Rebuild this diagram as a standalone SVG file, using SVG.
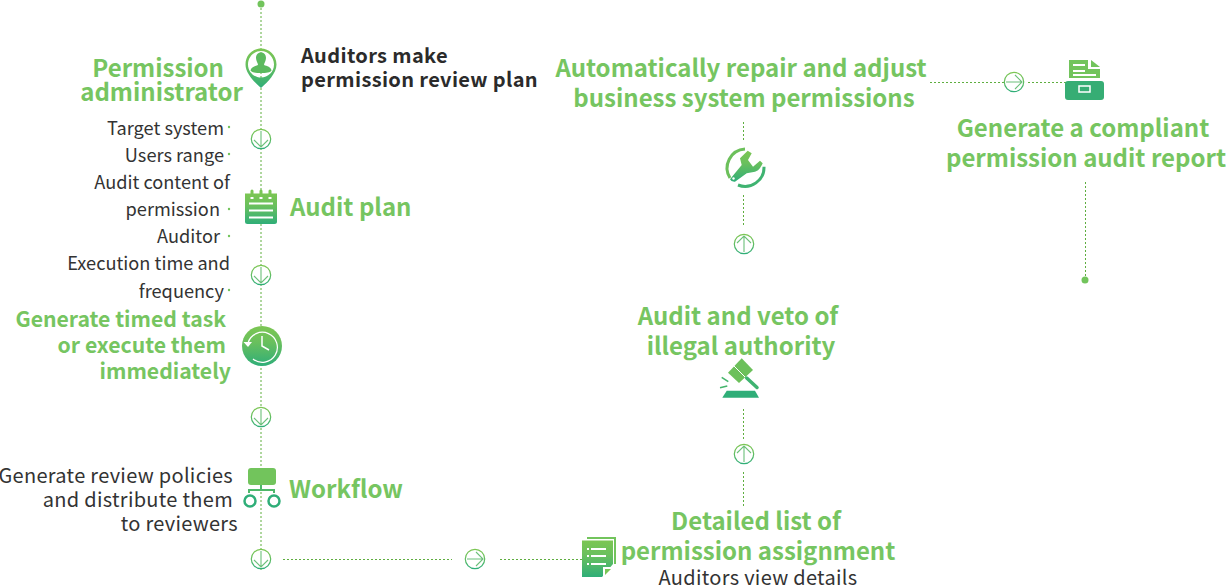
<svg xmlns="http://www.w3.org/2000/svg" width="1226" height="587" viewBox="0 0 1226 587">
<style>
text{font-family:"Noto Sans CJK SC","Noto Sans",sans-serif}
.g{fill:#76c561;font-weight:700;font-size:24px}
.g2{font-size:21.200px}
.k{fill:#333;font-size:18.200px}
.k2{font-size:20px;letter-spacing:.3px}
.b{fill:#2b2b2b;font-weight:700;font-size:20px;letter-spacing:.36px}
.e{text-anchor:end}.m{text-anchor:middle}
.d{stroke:#5fae3f;stroke-width:1;stroke-dasharray:2 2;fill:none}
.c{fill:#fff;stroke:url(#gr);stroke-width:1.200}
.a{fill:none;stroke:#6cc07a;stroke-width:1.100}
.dot{fill:#72c45c}
.w{fill:none;stroke:#fff;stroke-width:2}
</style>
<defs>
<linearGradient id="gr" x1="0" y1="0" x2="0" y2="1"><stop offset="0" stop-color="#7cc653"/><stop offset=".4" stop-color="#6ac05d"/><stop offset="1" stop-color="#2fae78"/></linearGradient>
<g id="circ"><circle class="c" r="9.700"/></g>
</defs>
<rect width="1226" height="587" fill="#fff"/>
<g id="connectors">
<path class="d" d="M261 4V570"/>
<path class="d" d="M283 559.500H452M500 559.500H595"/>
<path class="d" d="M743.500 122V142M743.500 195V226M743.500 409V440M743.500 472V508"/>
<path class="d" d="M930 82.500H1004M1028 82.500H1066"/>
<path class="d" d="M1085.500 182V278"/>
<circle class="dot" cx="261" cy="4" r="3.500"/>
<circle class="dot" cx="1085" cy="280" r="3.500"/>
<g class="dot"><circle cx="229" cy="127" r="1.200"/><circle cx="229" cy="154" r="1.200"/><circle cx="229" cy="209" r="1.200"/><circle cx="229" cy="236" r="1.200"/><circle cx="229" cy="290" r="1.200"/></g>
</g>
<g id="arrows">
<g transform="translate(261 139)"><use href="#circ"/><path class="a" d="M0 -8V8M-7 1L0 8L7 1"/></g>
<g transform="translate(261 275)"><use href="#circ"/><path class="a" d="M0 -8V8M-7 1L0 8L7 1"/></g>
<g transform="translate(261 417)"><use href="#circ"/><path class="a" d="M0 -8V8M-7 1L0 8L7 1"/></g>
<g transform="translate(261 559)"><use href="#circ"/><path class="a" d="M0 -8V8M-7 1L0 8L7 1"/></g>
<g transform="translate(475 559)"><use href="#circ"/><path class="a" d="M-8 0H8M1 -7L8 0L1 7"/></g>
<g transform="translate(744 454)"><use href="#circ"/><path class="a" d="M0 8V-8M-7 -1L0 -8L7 -1"/></g>
<g transform="translate(744 244)"><use href="#circ"/><path class="a" d="M0 8V-8M-7 -1L0 -8L7 -1"/></g>
<g transform="translate(1014 82)"><use href="#circ"/><path class="a" d="M-8 0H8M1 -7L8 0L1 7"/></g>
</g>
<g id="permission-admin">
<path d="M261 48.500C253 48.500 245.500 55 245.500 64.500C245.500 73 254 82 261 88C268 82 276.500 73 276.500 64.500C276.500 55 269 48.500 261 48.500ZM261 51C268 51 274 57 274 64.500C274 72 268 77.500 261 77.500C254 77.500 248 72 248 64.500C248 57 254 51 261 51Z" fill="url(#gr)"/>
<path d="M261 52.500C257.500 52.500 256 55 256 58C256 61 258 63 258 65C255 66 251 67 250.500 70.500C251.500 72.500 256 73 261 73C266 73 270.500 72.500 271.500 70.500C271 67 267 66 264 65C264 63 266 61 266 58C266 55 264.500 52.500 261 52.500Z" fill="#5cba5e"/>
<text class="g e" x="224" y="76.500">Permission</text>
<text class="g e" x="243" y="100.500">administrator</text>
<text class="b" x="301" y="63">Auditors make</text>
<text class="b" x="301" y="87">permission review plan</text>
</g>
<g id="audit-plan">
<path d="M245 193.500H277V221.500Q277 224 274.500 224H247.500Q245 224 245 221.500Z" fill="url(#gr)"/>
<path d="M252 191V196M261 191V196M270 191V196" stroke="#7ac555" stroke-width="3" stroke-linecap="round"/>
<path d="M252 197V199M261 197V199M270 197V199" stroke="#fff" stroke-width="3"/>
<path class="w" d="M249 203.500H273M249 210.500H273M249 217.500H273"/>
<text class="g" x="290" y="215.500">Audit plan</text>
<text class="k e" x="224" y="134.500">Target system</text>
<text class="k e" x="224" y="161.500">Users range</text>
<text class="k e" x="230" y="188.500">Audit content of</text>
<text class="k e" x="220" y="215.500">permission</text>
<text class="k e" x="220" y="242.500">Auditor</text>
<text class="k e" x="230" y="269.500">Execution time and</text>
<text class="k e" x="224" y="297.500">frequency</text>
</g>
<g id="timed-task">
<circle cx="262" cy="346" r="20" fill="url(#gr)"/>
<path d="M248 343A15 15 0 1 1 253 359" fill="none" stroke="#fff" stroke-width="1.200"/>
<path d="M243.500 342H252L248 347Z" fill="#fff"/>
<path d="M262 336V346L269 350" fill="none" stroke="#fff" stroke-width="1.500"/>
<text class="g g2 e" x="226" y="327">Generate timed task</text>
<text class="g g2 e" x="226" y="353">or execute them</text>
<text class="g g2 e" x="231" y="379">immediately</text>
</g>
<g id="workflow">
<rect x="248" y="468" width="28" height="17" rx="3" fill="#72c45c"/>
<path d="M261 485V490M249 493V490H274V493" fill="none" stroke="#4db86a" stroke-width="2"/>
<circle cx="250" cy="501" r="5.500" fill="none" stroke="#2fae78" stroke-width="2.500"/>
<circle cx="274" cy="501" r="5.500" fill="none" stroke="#2fae78" stroke-width="2.500"/>
<text class="g" x="289" y="497.500">Workflow</text>
<text class="k k2 e" x="233" y="483">Generate review policies</text>
<text class="k k2 e" x="233" y="507">and distribute them</text>
<text class="k k2 e" x="238" y="531">to reviewers</text>
</g>
<g id="detail-list">
<path d="M587 537H616V564H614V539H587Z" fill="#72c45c"/>
<path d="M582 540.500H613V564L602 577H582Z" fill="url(#gr)"/>
<path d="M603 577V567H613Z" fill="#fff"/><path d="M605 575V569H611Z" fill="#7ac555"/>
<path class="w" d="M591 549H606M591 556H606M591 564H606" stroke-width="1.500"/>
<path class="w" d="M587 549H589M587 556H589M587 564H589"/>
<text class="g m" x="756" y="529.500">Detailed list of</text>
<text class="g m" x="758" y="559.500">permission assignment</text>
<text class="k k2 m" x="758" y="585">Auditors view details</text>
</g>
<g id="audit-veto">
<path d="M741.700 358.300L753 370L739 383L728 372.700Z" fill="#6cc05b"/>
<path d="M734 366L746 378" stroke="#fff" stroke-width="1"/>
<path d="M746.700 378L757 387.500" stroke="#3fb371" stroke-width="3.500" stroke-linecap="round"/>
<path d="M722.300 397.700L726.700 390.700H755L759 397.700Z" fill="#2fae78"/>
<path d="M721.700 377.300L728.300 381.700M720 387.700L727.300 386" stroke="#45b56c" stroke-width="1.500"/>
<text class="g m" x="738" y="324.500">Audit and veto of</text>
<text class="g m" x="741" y="354.500">illegal authority</text>
</g>
<g id="auto-repair">
<path d="M745 149A19 19 0 0 0 730 178" fill="none" stroke="#6cc05b" stroke-width="3"/>
<path d="M764 166.700A19 19 0 0 1 738 185" fill="none" stroke="#3fb371" stroke-width="3"/>
<path d="M747.700 150.700L751.700 153.300L748 160L753 166.700L760 160.700L762.700 163.300C760 169 758 171 755 171.700L746.700 173.300L735 181.700Q731 182 730 179.300L741.700 165L740 158.300Z" fill="url(#gr)"/>
<circle cx="733.500" cy="178.500" r="1.200" fill="#fff"/>
<text class="g m" x="741" y="76.500">Automatically repair and adjust</text>
<text class="g m" x="744" y="106.500">business system permissions</text>
</g>
<g id="report">
<path d="M1069 60H1088V69H1100V78H1069Z" fill="#72c45c"/>
<path d="M1091 60L1100 67H1091Z" fill="#72c45c"/>
<path class="w" d="M1073 65H1085M1073 71H1085M1073 75H1096" stroke-width="1.500"/>
<rect x="1065" y="81" width="39" height="19" rx="3" fill="#36ad74"/>
<rect x="1079" y="86" width="11" height="6" fill="#36ad74" stroke="#fff" stroke-width="1.500"/>
<text class="g m" x="1083" y="136.500">Generate a compliant</text>
<text class="g m" x="1086" y="166.500">permission audit report</text>
</g>
</svg>
